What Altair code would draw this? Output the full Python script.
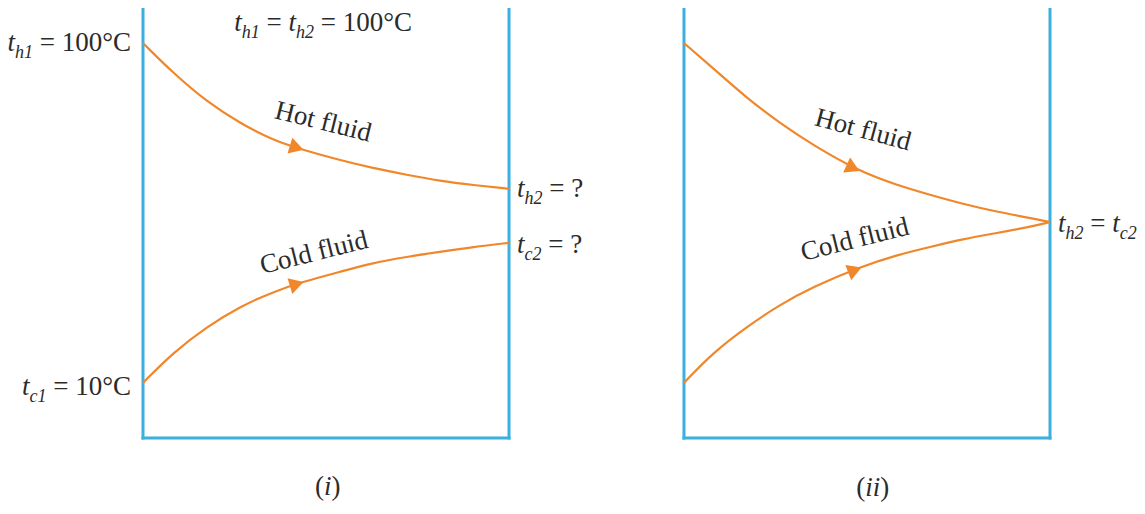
import altair as alt
import pandas as pd

# ---------------- values ----------------
# position along the exchanger (0 = inlet, 1 = outlet) and temperature (°C)
X_I = [0, 0.082, 0.175, 0.265, 0.355, 0.437, 0.538, 0.628, 0.721, 0.811, 0.902, 1.0]
HOT_I = [100, 92.1, 84.4, 78.8, 74.3, 71.7, 69.0, 66.9, 65.1, 63.5, 62.4, 61.4]
COLD_I = [10, 18.0, 24.9, 30.2, 34.1, 36.8, 39.4, 41.8, 43.4, 44.7, 46.0, 47.1]

X_II = [0, 0.079, 0.172, 0.262, 0.352, 0.481, 0.582, 0.672, 0.762, 0.855, 0.945, 1.0]
HOT_II = [100, 93.4, 85.4, 78.8, 73.0, 65.9, 62.4, 59.8, 57.4, 55.3, 53.7, 52.6]
COLD_II = [10, 18.0, 24.9, 30.7, 35.4, 40.7, 43.9, 46.0, 48.1, 49.7, 51.3, 52.6]

# flow-direction arrows: panel, position, temperature, direction (deg)
ARROW_PANEL = [0, 0, 1, 1]
ARROW_X = [0.42, 0.42, 0.462, 0.467]
ARROW_T = [72.3, 36.2, 66.9, 39.9]
ARROW_ANGLE = [17, 343, 25, 339]

# fluid names along the curves
FLUID_PANEL = [0, 0, 1, 1]
FLUID_TEXT = ["Hot fluid", "Cold fluid", "Hot fluid", "Cold fluid"]
FLUID_X = [0.492, 0.467, 0.489, 0.467]
FLUID_T = [79.1, 44.4, 77.0, 47.9]
FLUID_ANGLE = [14, 346, 15, 346]

# labels made of pieces: (text, style) with style it = italic, sub = subscript, rm = roman
LABELS = [
    (0, 0.0, 100.0, "right", [("t", "it"), ("h1", "sub"), (" = 100°C", "rm")]),
    (0, 0.0, 9.0, "right", [("t", "it"), ("c1", "sub"), (" = 10°C", "rm")]),
    (0, 0.492, 105.2, "center", [("t", "it"), ("h1", "sub"), (" = ", "rm"), ("t", "it"), ("h2", "sub"), (" = 100°C", "rm")]),
    (0, 1.0, 61.4, "left", [("t", "it"), ("h2", "sub"), (" = ?", "rm")]),
    (0, 1.0, 46.5, "left", [("t", "it"), ("c2", "sub"), (" = ?", "rm")]),
    (1, 1.0, 52.1, "left", [("t", "it"), ("h2", "sub"), (" = ", "rm"), ("t", "it"), ("c2", "sub")]),
    (0, 0.505, -17.6, "center", [("(", "rm"), ("i", "it"), (")", "rm")]),
    (1, 0.516, -17.8, "center", [("(", "rm"), ("ii", "it"), (")", "rm")]),
]

# ---------------- layout & style ----------------
FONT = "Liberation Serif"
BLUE = "#3aafe0"
ORANGE = "#f0872a"
INK = "#2b2b2b"
MAIN, SUB = 27, 18
PLOT_W, PLOT_H = 907, 430
GAP = 0.478
X_MAX = 2 + GAP
Y_MIN, Y_MAX = -4.6, 109.3
PX = PLOT_W / X_MAX
LABEL_GAP_LEFT = 12
LABEL_GAP_RIGHT = 8

W_RM = {" ": 0.25, "=": 0.564, "0": 0.5, "1": 0.5, "2": 0.5, "°": 0.4, "C": 0.667,
        "?": 0.444, "(": 0.333, ")": 0.333}
W_IT = {" ": 0.25, "t": 0.278, "h": 0.5, "c": 0.444, "i": 0.278, "1": 0.5, "2": 0.5}


def offset(panel):
    return 0.0 if panel == 0 else 1.0 + GAP


def seg_width(text, style):
    table = W_RM if style == "rm" else W_IT
    size = SUB if style == "sub" else MAIN
    return sum(table[c] for c in text) * size


xs = alt.Scale(domain=[0, X_MAX], nice=False, zero=False)
ys = alt.Scale(domain=[Y_MIN, Y_MAX], nice=False, zero=False)
X = lambda f="x": alt.X(f"{f}:Q", scale=xs, axis=None)
Y = lambda f="T": alt.Y(f"{f}:Q", scale=ys, axis=None)

# curves
rows = []
for panel, xv, hot, cold in [(0, X_I, HOT_I, COLD_I), (1, X_II, HOT_II, COLD_II)]:
    for name, tv in (("hot", hot), ("cold", cold)):
        for x, t in zip(xv, tv):
            rows.append(dict(series=f"{panel}-{name}", x=offset(panel) + x, T=t))
curve_df = pd.DataFrame(rows)

# frames (left, right, bottom of each panel)
frame_rows = []
for p in (0, 1):
    o = offset(p)
    frame_rows += [
        dict(x=o, x2=o, T=Y_MIN, T2=Y_MAX),
        dict(x=o + 1, x2=o + 1, T=Y_MIN, T2=Y_MAX),
        dict(x=o, x2=o + 1, T=Y_MIN, T2=Y_MIN),
    ]
frame_df = pd.DataFrame(frame_rows)

arrow_df = pd.DataFrame(dict(
    x=[offset(p) + x for p, x in zip(ARROW_PANEL, ARROW_X)], T=ARROW_T, angle=ARROW_ANGLE))
fluid_df = pd.DataFrame(dict(
    x=[offset(p) + x for p, x in zip(FLUID_PANEL, FLUID_X)], T=FLUID_T,
    text=FLUID_TEXT, angle=FLUID_ANGLE))

seg_rows = []
for panel, fx, T, align, segs in LABELS:
    total = sum(seg_width(t, s) for t, s in segs)
    anchor = (offset(panel) + fx) * PX
    if align == "right":
        cur = anchor - LABEL_GAP_LEFT - total
    elif align == "left":
        cur = anchor + LABEL_GAP_RIGHT
    else:
        cur = anchor - total / 2
    for t, s in segs:
        lead = len(t) - len(t.lstrip(" "))
        seg_rows.append(dict(x=(cur + seg_width(" " * lead, s)) / PX, T=T, text=t.strip(" "), style=s))
        cur += seg_width(t, s)
seg_df = pd.DataFrame(seg_rows)

frame = alt.Chart(frame_df).mark_rule(color=BLUE, strokeWidth=3, strokeCap="square").encode(
    x=X(), x2="x2:Q", y=Y(), y2="T2:Q")

curves = alt.Chart(curve_df).mark_line(color=ORANGE, strokeWidth=2.2, interpolate="basis").encode(
    x=X(), y=Y(), detail="series:N", order="x:Q")

arrows = alt.Chart(arrow_df).mark_point(shape="triangle-right", filled=True, size=270,
                                        color=ORANGE, opacity=1).encode(
    x=X(), y=Y(), angle=alt.Angle("angle:Q", scale=None))

fluids = alt.Chart(fluid_df).mark_text(font=FONT, fontSize=MAIN, color=INK, align="center",
                                       baseline="middle").encode(
    x=X(), y=Y(), text="text:N", angle=alt.Angle("angle:Q", scale=None))


def seg_layer(style, **kw):
    return alt.Chart(seg_df).transform_filter(alt.datum.style == style).mark_text(
        font=FONT, color=INK, align="left", baseline="middle", **kw).encode(
        x=X(), y=Y(), text="text:N")


labels_it = seg_layer("it", fontSize=MAIN, fontStyle="italic")
labels_sub = seg_layer("sub", fontSize=SUB, fontStyle="italic", dy=10)
labels_rm = seg_layer("rm", fontSize=MAIN)

chart = alt.layer(frame, curves, arrows, fluids, labels_it, labels_sub, labels_rm).properties(
    width=PLOT_W, height=PLOT_H,
    autosize=alt.AutoSizeParams(type="none"),
    padding={"left": 135, "top": 0, "right": 87, "bottom": 68},
).configure_view(stroke=None)

chart.save("out.html", embed_options={"renderer": "svg", "actions": False})
